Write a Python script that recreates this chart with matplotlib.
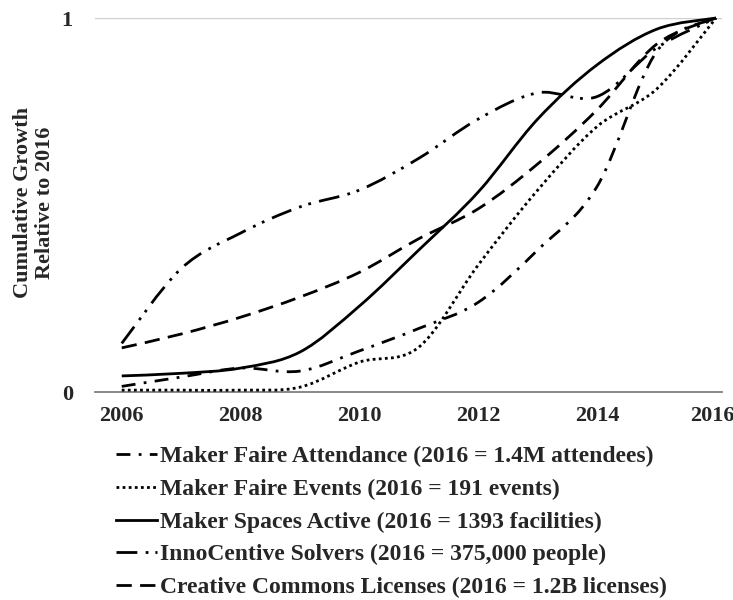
import matplotlib
matplotlib.use("Agg")
import matplotlib.pyplot as plt
from matplotlib.path import Path
from matplotlib.patches import PathPatch
from matplotlib.lines import Line2D
from matplotlib.transforms import ScaledTranslation
import numpy as np

plt.rcParams['font.family'] = ['Liberation Serif', 'DejaVu Serif']
plt.rcParams['font.weight'] = 'bold'

years = [2006, 2007, 2008, 2009, 2010, 2011, 2012, 2013, 2014, 2015, 2016]
attendance = [0.015, 0.04, 0.064, 0.056, 0.11, 0.17, 0.24, 0.38, 0.55, 0.91, 1.0]
events = [0.005, 0.005, 0.005, 0.013, 0.08, 0.12, 0.34, 0.54, 0.71, 0.81, 1.0]
spaces = [0.043, 0.05, 0.064, 0.107, 0.23, 0.38, 0.535, 0.73, 0.875, 0.97, 1.0]
innocentive = [0.13, 0.33, 0.425, 0.495, 0.54, 0.625, 0.73, 0.80, 0.79, 0.92, 1.0]
creative = [0.118, 0.155, 0.20, 0.254, 0.32, 0.41, 0.49, 0.61, 0.755, 0.93, 1.0]

labels = [
    "Maker Faire Attendance (2016 = 1.4M attendees)",
    "Maker Faire Events (2016 = 191 events)",
    "Maker Spaces Active (2016 = 1393 facilities)",
    "InnoCentive Solvers (2016 = 375,000 people)",
    "Creative Commons Licenses (2016 = 1.2B licenses)",
]
xtick_years = [2006, 2008, 2010, 2012, 2014, 2016]

LW = 2.0
styles = [
    (0, (5.0, 3.0, 1.0, 3.0)),            # dash dot
    (0, (1.0, 1.2)),                      # round dot
    'solid',
    (0, (7.5, 3.0, 1.0, 2.5, 1.0, 3.0)),  # long dash dot dot
    (0, (5.5, 3.0)),                      # dash
]
series = [attendance, events, spaces, innocentive, creative]


def smooth_path(xs, ys):
    pts = np.column_stack([xs, ys]).astype(float)
    n = len(pts)
    verts = [pts[0]]
    codes = [Path.MOVETO]
    for i in range(n - 1):
        p0 = pts[i - 1] if i > 0 else pts[i]
        p1 = pts[i]
        p2 = pts[i + 1]
        p3 = pts[i + 2] if i + 2 < n else pts[i + 1]
        c1 = p1 + (p2 - p0) / 6.0
        c2 = p2 - (p3 - p1) / 6.0
        verts += [c1, c2, p2]
        codes += [Path.CURVE4] * 3
    return Path(verts, codes)


fig = plt.figure(figsize=(7.33, 6.0), dpi=100)
ax = fig.add_axes([95 / 733, 1 - 392 / 600, 627 / 733, 374 / 600])
ax.set_xlim(2005.55, 2016.1)
ax.set_ylim(0, 1)

for ys, ls in zip(series, styles):
    patch = PathPatch(smooth_path(years, ys), fill=False, edgecolor='black',
                      linewidth=LW, linestyle=ls, capstyle='butt', joinstyle='round',
                      clip_on=False, zorder=3)
    ax.add_patch(patch)

for s in ['left', 'right', 'top']:
    ax.spines[s].set_visible(False)
ax.spines['bottom'].set_color('#7f7f7f')
ax.spines['bottom'].set_linewidth(1.3)
ax.axhline(1, color='#d0d0d0', lw=1.0, zorder=1)

txtc = '#262626'
ax.set_yticks([0, 1])
ax.set_yticklabels(['0', '1'])
ax.set_xticks(xtick_years)
ax.set_xticklabels([str(y) for y in xtick_years])
ax.tick_params(axis='y', length=0, pad=16, labelsize=16, labelcolor=txtc)
ax.tick_params(axis='x', length=0, pad=10, labelsize=16, labelcolor=txtc)
for t in ax.get_xticklabels() + ax.get_yticklabels():
    t.set_fontweight('bold')
last = ax.get_xticklabels()[-1]
last.set_transform(last.get_transform() + ScaledTranslation(-4 / 100, 0, fig.dpi_scale_trans))

fig.text(34 / 733, 1 - 203 / 600, "Cumulative Growth\nRelative to 2016", rotation=90,
         ha='center', va='center', multialignment='center', fontsize=16,
         fontweight='bold', color=txtc, linespacing=1.1)

handles = [Line2D([0], [0], color='black', lw=LW, linestyle=ls, dash_capstyle='butt')
           for ls in styles]
leg = fig.legend(handles, labels, loc='upper left',
                 bbox_to_anchor=(116 / 733, 1 - 446 / 600), frameon=False,
                 fontsize=17, handlelength=1.75, handletextpad=0.12,
                 labelspacing=0.47, borderaxespad=0, borderpad=0)
for t in leg.get_texts():
    t.set_color(txtc)
    t.set_fontweight('bold')

fig.savefig('out.png', dpi=100)
